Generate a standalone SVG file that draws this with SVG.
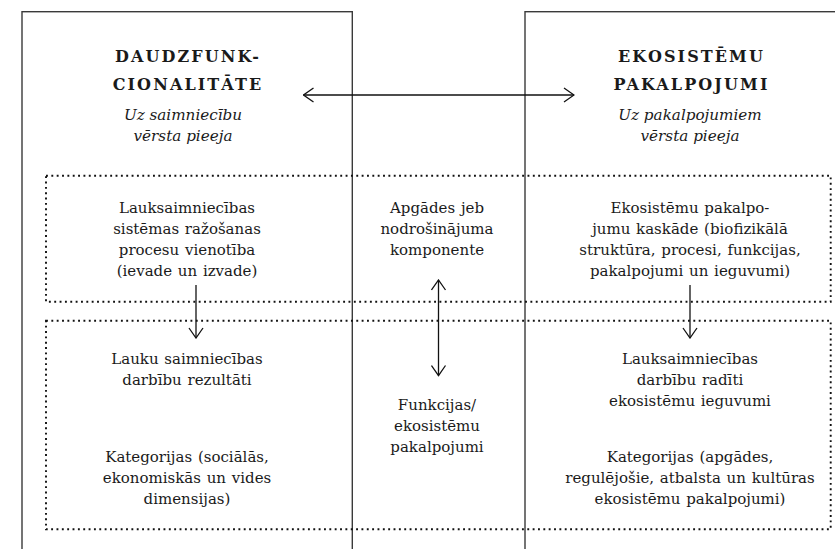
<svg xmlns="http://www.w3.org/2000/svg" width="835" height="549" viewBox="0 0 835 549">
<defs>
<style>
.frame{fill:none;stroke:#3a3a3a;stroke-width:1.4}
.dot{fill:none;stroke:#111;stroke-width:1.9;stroke-dasharray:1.9 3.45}
.head{font-family:"DejaVu Serif","Liberation Serif",serif;font-weight:bold;font-size:16px;letter-spacing:2.1px;fill:#1a1a1a;text-anchor:middle}
.sub{font-family:"DejaVu Serif","Liberation Serif",serif;font-style:italic;font-size:15.2px;fill:#1a1a1a;text-anchor:middle}
.body{font-family:"DejaVu Serif","Liberation Serif",serif;font-size:15px;word-spacing:1px;fill:#1a1a1a;text-anchor:middle}
.ln{fill:none;stroke:#111;stroke-width:1.3}
</style>
<marker id="ah" viewBox="0 0 12 16" refX="11" refY="8" markerWidth="12" markerHeight="16" markerUnits="userSpaceOnUse" orient="auto-start-reverse">
<path d="M1,1 L11,8 L1,15" fill="none" stroke="#111" stroke-width="1.3"/>
</marker>
</defs>
<rect width="835" height="549" fill="#fff"/>
<g id="frames">
<rect class="frame" x="22" y="11.7" width="330.3" height="600"/>
<rect class="frame" x="525" y="11.7" width="400" height="600"/>
</g>
<g id="bands">
<rect class="dot" x="46" y="175.7" width="784.7" height="126"/>
<rect class="dot" x="46" y="320.7" width="784.7" height="208.5"/>
</g>
<g id="multifunctionality">
<text class="head" x="188" y="61.5">DAUDZFUNK-</text>
<text class="head" x="188" y="90">CIONALITĀTE</text>
<text class="sub" x="183" y="120">Uz saimniecību</text>
<text class="sub" x="183" y="141">vērsta pieeja</text>
</g>
<g id="ecosystem-services">
<text class="head" x="691.5" y="61.5">EKOSISTĒMU</text>
<text class="head" x="691.5" y="90">PAKALPOJUMI</text>
<text class="sub" x="690" y="120">Uz pakalpojumiem</text>
<text class="sub" x="690" y="141">vērsta pieeja</text>
</g>
<g id="left-top">
<text class="body" x="187" y="213">Lauksaimniecības</text>
<text class="body" x="187" y="234">sistēmas ražošanas</text>
<text class="body" x="187" y="255">procesu vienotība</text>
<text class="body" x="187" y="276">(ievade un izvade)</text>
</g>
<g id="middle-top">
<text class="body" x="437" y="213">Apgādes jeb</text>
<text class="body" x="437" y="234">nodrošinājuma</text>
<text class="body" x="437" y="255">komponente</text>
</g>
<g id="right-top">
<text class="body" x="690" y="213">Ekosistēmu pakalpo-</text>
<text class="body" x="690" y="234">jumu kaskāde (biofizikālā</text>
<text class="body" x="690" y="255">struktūra, procesi, funkcijas,</text>
<text class="body" x="690" y="276">pakalpojumi un ieguvumi)</text>
</g>
<g id="left-bottom">
<text class="body" x="187" y="364">Lauku saimniecības</text>
<text class="body" x="187" y="385">darbību rezultāti</text>
<text class="body" x="187" y="462">Kategorijas (sociālās,</text>
<text class="body" x="187" y="483">ekonomiskās un vides</text>
<text class="body" x="187" y="504">dimensijas)</text>
</g>
<g id="middle-bottom">
<text class="body" x="437" y="410">Funkcijas/</text>
<text class="body" x="437" y="431">ekosistēmu</text>
<text class="body" x="437" y="452">pakalpojumi</text>
</g>
<g id="right-bottom">
<text class="body" x="690" y="364">Lauksaimniecības</text>
<text class="body" x="690" y="385">darbību radīti</text>
<text class="body" x="690" y="406">ekosistēmu ieguvumi</text>
<text class="body" x="690" y="462">Kategorijas (apgādes,</text>
<text class="body" x="690" y="483">regulējošie, atbalsta un kultūras</text>
<text class="body" x="690" y="504">ekosistēmu pakalpojumi)</text>
</g>
<g id="connectors">
<line class="ln" x1="303.5" y1="95" x2="574" y2="95" marker-start="url(#ah)" marker-end="url(#ah)"/>
<line class="ln" x1="196" y1="285" x2="196" y2="338" marker-end="url(#ah)"/>
<line class="ln" x1="690" y1="285" x2="690" y2="338" marker-end="url(#ah)"/>
<line class="ln" x1="438.5" y1="280" x2="438.5" y2="375.5" marker-start="url(#ah)" marker-end="url(#ah)"/>
</g>
</svg>
